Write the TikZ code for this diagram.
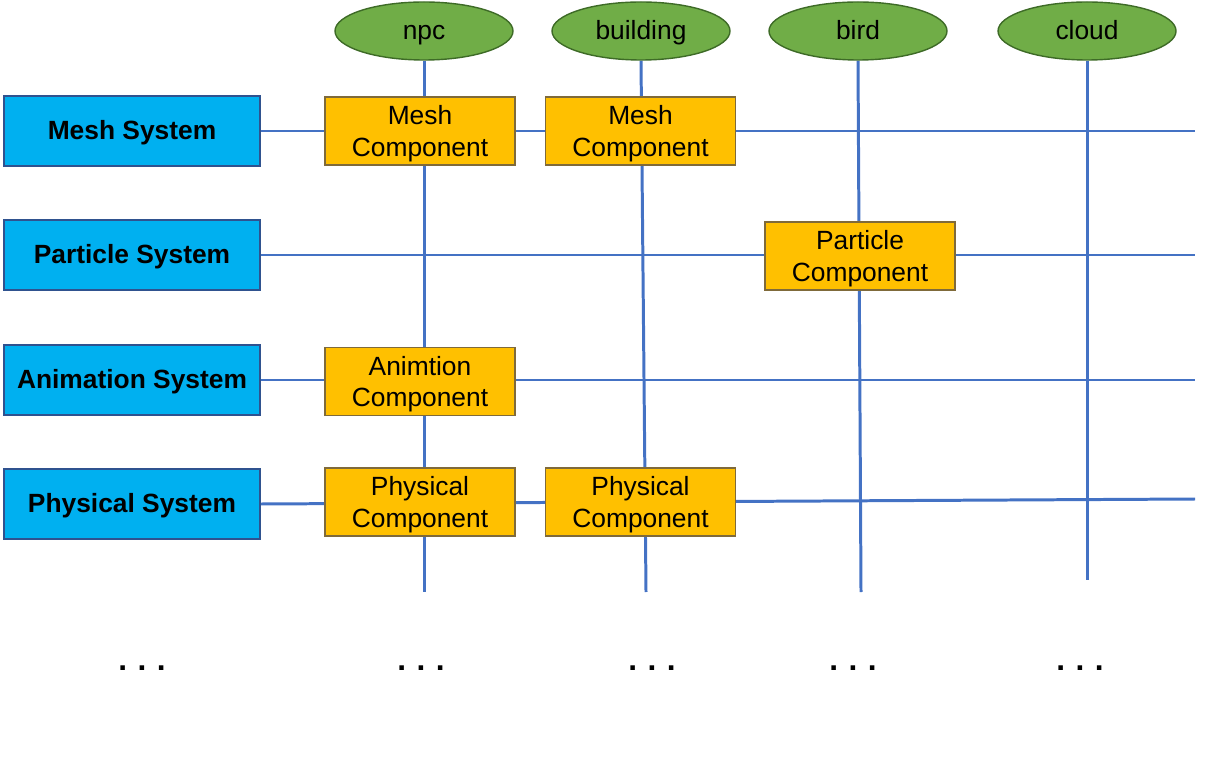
\documentclass[tikz,border=0pt]{standalone}
\usepackage{fontspec}
\setmainfont{Liberation Sans}
\usetikzlibrary{shapes,backgrounds}
\definecolor{sysblue}{HTML}{00B0F0}
\definecolor{sysedge}{HTML}{2F528F}
\definecolor{compyellow}{HTML}{FFC000}
\definecolor{compedge}{HTML}{7F6A3A}
\definecolor{entgreen}{HTML}{70AD47}
\definecolor{entedge}{HTML}{3E6B27}
\definecolor{wire}{HTML}{4472C4}
\tikzstyle{sys}=[rectangle,draw=sysedge,fill=sysblue,thick,minimum width=5.12cm,minimum height=1.4cm,inner sep=1pt,text height=1.17em,text depth=0.25em,font=\fontsize{15}{18}\selectfont\bfseries]
\tikzstyle{comp}=[rectangle,draw=compedge,fill=compyellow,thick,minimum width=3.8cm,minimum height=1.36cm,inner sep=1pt,align=center,text depth=-0.1em,font=\fontsize{15}{18}\selectfont]
\tikzstyle{ent}=[ellipse,draw=entedge,fill=entgreen,thick,minimum width=3.56cm,minimum height=1.16cm,inner sep=1pt,text height=1.17em,text depth=0.25em,font=\fontsize{15}{18}\selectfont]
\tikzstyle{wr}=[draw=wire,line width=1.7pt]
\tikzstyle{more}=[font=\fontsize{18}{20}\selectfont\bfseries]

\begin{document}
\begin{tikzpicture}
	\useasboundingbox (0,0) rectangle (24.52,-15.28);
	% systems
	\node[sys] (meshsys) at (2.64,-2.62) {Mesh System};
	\node[sys] (partsys) at (2.64,-5.10) {Particle System};
	\node[sys] (animsys) at (2.64,-7.60) {Animation System};
	\node[sys] (physsys) at (2.64,-10.08) {Physical System};
	% entities
	\node[ent] (npc) at (8.48,-0.62) {npc};
	\node[ent] (building) at (12.82,-0.62) {building};
	\node[ent] (bird) at (17.16,-0.62) {bird};
	\node[ent] (cloud) at (21.74,-0.62) {cloud};
	% components
	\node[comp] (meshnpc) at (8.40,-2.62) {Mesh\\Component};
	\node[comp] (meshbld) at (12.81,-2.62) {Mesh\\Component};
	\node[comp] (partbird) at (17.20,-5.12) {Particle\\Component};
	\node[comp] (animnpc) at (8.40,-7.63) {Animtion\\Component};
	\node[comp] (physnpc) at (8.40,-10.04) {Physical\\Component};
	\node[comp] (physbld) at (12.81,-10.04) {Physical\\Component};
	% line ends
	\coordinate (npcend) at (8.48,-11.84);
	\coordinate (buildingend) at (12.92,-11.84);
	\coordinate (birdend) at (17.22,-11.84);
	\coordinate (cloudend) at (21.74,-11.60);
	\coordinate (meshend) at (23.90,-2.62);
	\coordinate (partend) at (23.90,-5.10);
	\coordinate (animend) at (23.90,-7.60);
	\coordinate (physend) at (23.90,-9.98);
	\begin{scope}[on background layer]
		\draw[wr] (npc.south) -- (npcend);
		\draw[wr] (building.south) -- (buildingend);
		\draw[wr] (bird.south) -- (birdend);
		\draw[wr] (cloud.south) -- (cloudend);
		\draw[wr] (meshsys.east) -- (meshend);
		\draw[wr] (partsys.east) -- (partend);
		\draw[wr] (animsys.east) -- (animend);
		\draw[wr] (physsys.east) -- (physend);
	\end{scope}
	% more rows and columns
	\node[more] (more0) at (2.84,-13.36) {.\hspace{6pt}.\hspace{6pt}.};
	\node[more] (more1) at (8.42,-13.36) {.\hspace{6pt}.\hspace{6pt}.};
	\node[more] (more2) at (13.04,-13.36) {.\hspace{6pt}.\hspace{6pt}.};
	\node[more] (more3) at (17.06,-13.36) {.\hspace{6pt}.\hspace{6pt}.};
	\node[more] (more4) at (21.60,-13.36) {.\hspace{6pt}.\hspace{6pt}.};
\end{tikzpicture}
\end{document}
